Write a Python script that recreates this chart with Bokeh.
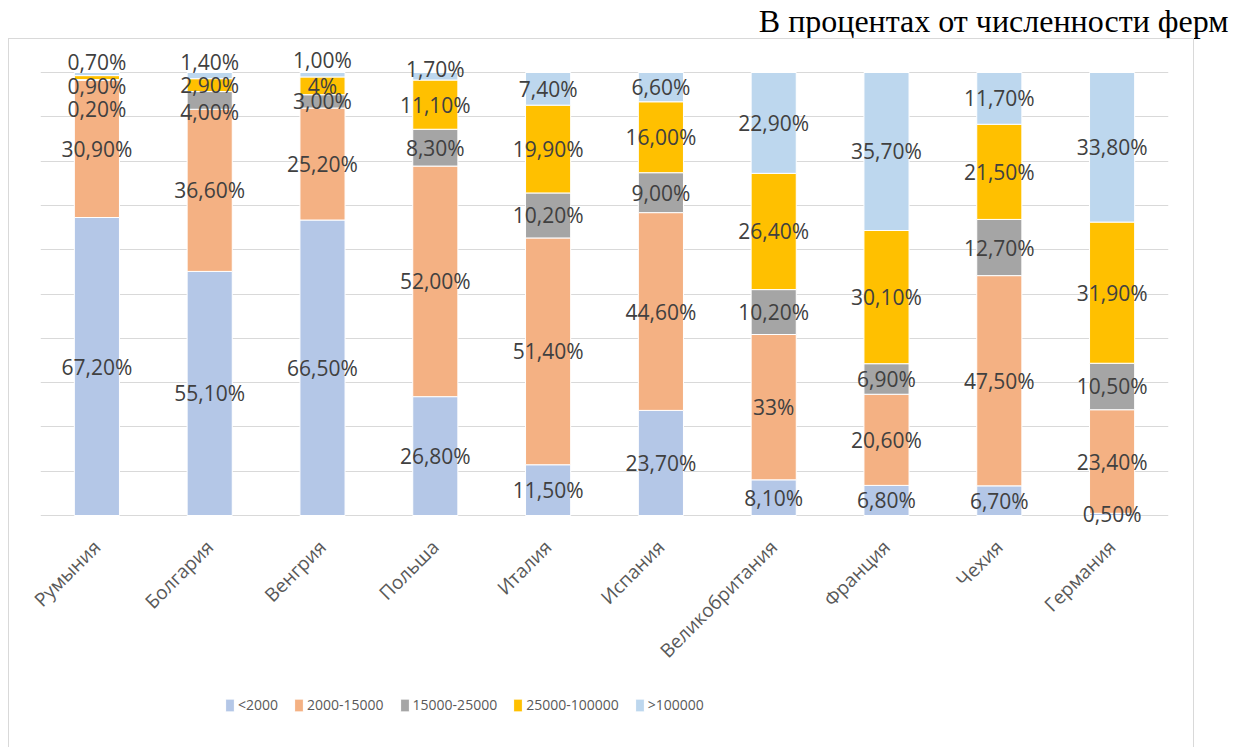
import math
from bokeh.plotting import figure
from bokeh.layouts import column
from bokeh.models import (ColumnDataSource, FactorRange, Range1d, FixedTicker, Legend,
                          LegendItem, InlineStyleSheet)
from bokeh.core.properties import value
from bokeh.embed import file_html
from bokeh.resources import INLINE

countries = ["Румыния", "Болгария", "Венгрия", "Польша", "Италия", "Испания",
             "Великобритания", "Франция", "Чехия", "Германия"]
series = ["<2000", "2000-15000", "15000-25000", "25000-100000", ">100000"]

lt2000 = [67.2, 55.1, 66.5, 26.8, 11.5, 23.7, 8.1, 6.8, 6.7, 0.5]
s2000_15000 = [30.9, 36.6, 25.2, 52.0, 51.4, 44.6, 33.0, 20.6, 47.5, 23.4]
s15000_25000 = [0.2, 4.0, 3.0, 8.3, 10.2, 9.0, 10.2, 6.9, 12.7, 10.5]
s25000_100000 = [0.9, 2.9, 4.0, 11.1, 19.9, 16.0, 26.4, 30.1, 21.5, 31.9]
gt100000 = [0.7, 1.4, 1.0, 1.7, 7.4, 6.6, 22.9, 35.7, 11.7, 33.8]

lab_lt2000 = ["67,20%", "55,10%", "66,50%", "26,80%", "11,50%", "23,70%", "8,10%", "6,80%", "6,70%", "0,50%"]
lab_2000_15000 = ["30,90%", "36,60%", "25,20%", "52,00%", "51,40%", "44,60%", "33%", "20,60%", "47,50%", "23,40%"]
lab_15000_25000 = ["0,20%", "4,00%", "3,00%", "8,30%", "10,20%", "9,00%", "10,20%", "6,90%", "12,70%", "10,50%"]
lab_25000_100000 = ["0,90%", "2,90%", "4%", "11,10%", "19,90%", "16,00%", "26,40%", "30,10%", "21,50%", "31,90%"]
lab_gt100000 = ["0,70%", "1,40%", "1,00%", "1,70%", "7,40%", "6,60%", "22,90%", "35,70%", "11,70%", "33,80%"]

all_vals = [lt2000, s2000_15000, s15000_25000, s25000_100000, gt100000]
all_labs = [lab_lt2000, lab_2000_15000, lab_15000_25000, lab_25000_100000, lab_gt100000]
colors = ["#B4C7E7", "#F4B183", "#A5A5A5", "#FFC000", "#BDD7EE"]

# manual label nudges (pixels, as moved in the original chart)
nudge = {("Румыния", 2): 29, ("Румыния", 3): 8, ("Румыния", 4): -12,
         ("Болгария", 2): 12, ("Болгария", 4): -14,
         ("Венгрия", 4): -15, ("Польша", 4): -7}

# layout (canvas pixels)
W = 1237
H1, H2 = 680, 67                   # main chart / legend strip
PLOT_L, PLOT_R = 40, 1168          # plot area
PLOT_T, PLOT_B = 72, 515           # 100% line and 0% line
FRAME_T, FRAME_B = 38, 527         # frame a bit larger so labels are not clipped
pxu = (PLOT_B - PLOT_T) / 100.0
y_start = -(FRAME_B - PLOT_B) / pxu
y_end = 100 + (PLOT_T - FRAME_T) / pxu

# 100% stacking
totals = [sum(v[i] for v in all_vals) for i in range(len(countries))]
keys = ["k%d" % j for j in range(len(series))]
data = {"country": countries}
for j, v in enumerate(all_vals):
    data[keys[j]] = [v[i] / totals[i] * 100 for i in range(len(countries))]
src = ColumnDataSource(data)

lx, ly, lt, lo = [], [], [], []
for i, c in enumerate(countries):
    cum = 0.0
    for j in range(len(series)):
        h = data[keys[j]][i]
        lx.append(c)
        ly.append(cum + h / 2)
        lt.append(all_labs[j][i])
        lo.append(nudge.get((c, j), 0))
        cum += h
lsrc = ColumnDataSource(dict(x=lx, y=ly, text=lt, yo=lo))

p = figure(width=W, height=H1, x_range=FactorRange(factors=countries),
           y_range=Range1d(y_start, y_end), output_backend="svg", toolbar_location=None,
           min_border_left=PLOT_L, min_border_right=W - PLOT_R,
           min_border_top=FRAME_T, min_border_bottom=H1 - FRAME_B)
p.outline_line_color = None
p.background_fill_color = "white"
p.border_fill_color = None

p.title.text = "В процентах от численности ферм"
p.title.align = "right"
p.title.offset = -60
p.title.text_font = "Liberation Serif"
p.title.text_font_size = "32px"
p.title.text_font_style = "normal"
p.title.text_color = "black"
p.title.standoff = 0

rs = p.vbar_stack(keys, x="country", width=0.4, color=colors, source=src,
                  line_color="white", line_width=1)

p.text(x="x", y="y", text="text", y_offset="yo", source=lsrc,
       text_align="center", text_baseline="middle",
       text_font=value("Open Sans"), text_font_size="21px", text_color="#404040")

p.yaxis.visible = False
p.xgrid.grid_line_color = None
p.ygrid.ticker = FixedTicker(ticks=list(range(0, 101, 10)))
p.ygrid.grid_line_color = "#d9d9d9"
p.ygrid.grid_line_width = 1

xa = p.xaxis[0]
xa.major_label_orientation = math.pi / 4
xa.major_label_text_font = "Open Sans"
xa.major_label_text_font_size = "19px"
xa.major_label_text_color = "#595959"
xa.major_tick_line_color = None
xa.minor_tick_line_color = None
xa.axis_line_color = None
xa.major_label_standoff = 10

# legend strip (separate canvas so the legend is not clipped by the plot frame)
pl = figure(width=W, height=H2, x_range=FactorRange(factors=countries),
            y_range=Range1d(-1000, -900), output_backend="svg", toolbar_location=None,
            x_axis_location=None, y_axis_location=None,
            min_border_left=0, min_border_right=0, min_border_top=0, min_border_bottom=0)
pl.outline_line_color = None
pl.grid.visible = False
pl.border_fill_color = None
pl.background_fill_color = None
lrs = pl.vbar_stack(keys, x="country", width=0.4, color=colors, source=src,
                    line_color="white", line_width=1)
for r in lrs:
    r.visible = False
items = [LegendItem(label=series[j], renderers=[lrs[j]]) for j in range(len(series))]
leg = Legend(items=items, orientation="horizontal", location=(184, 33),
             glyph_width=11, glyph_height=16, label_standoff=3, spacing=15,
             padding=0, margin=0, border_line_color=None, background_fill_alpha=0,
             label_text_font="Open Sans", label_text_font_size="14px",
             label_text_color="#595959", label_height=16,
             inactive_fill_alpha=0)
pl.add_layout(leg, "center")

box_css = InlineStyleSheet(css="""
:host::after {
  content: "";
  position: absolute;
  left: 8px; top: 38px; width: 1186px; height: 709px;
  border: 1px solid #d9d9d9; border-bottom: none;
  box-sizing: border-box; pointer-events: none;
}
""")
layout = column(p, pl, spacing=0, stylesheets=[box_css])

open("out.html", "w").write(file_html(layout, INLINE))
